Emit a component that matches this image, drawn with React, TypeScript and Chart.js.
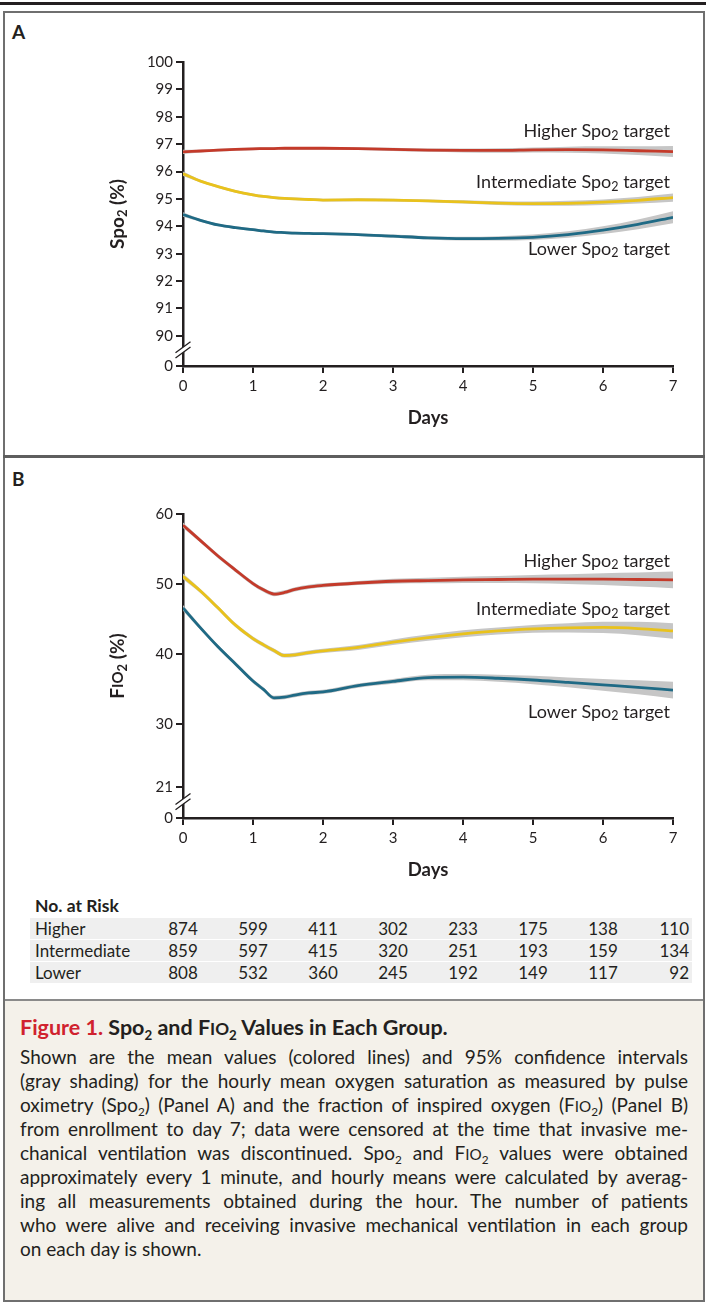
import React, { useEffect, useRef } from "react";
import { Chart, registerables } from "chart.js";

Chart.register(...registerables);

const FONT = "Lato, 'Open Sans', sans-serif";
const INK = "#231f20";
const BAND = "#c6c6c6";
const RED = "#c43a2a";
const YELLOW = "#e9c21c";
const BLUE = "#1f6a85";

// ---------- data ----------
const days = [0, 0.25, 0.5, 0.75, 1, 1.15, 1.3, 1.45, 1.6, 1.8, 2, 2.5, 3, 3.5, 4, 4.5, 5, 5.5, 6, 6.5, 7];
const dayTicks = [0, 1, 2, 3, 4, 5, 6, 7];

// Panel A: SpO2 (%)
const spo2Higher = [96.72, 96.75, 96.78, 96.81, 96.83, 96.835, 96.84, 96.85, 96.85, 96.85, 96.85, 96.84, 96.81, 96.78, 96.77, 96.77, 96.79, 96.8, 96.79, 96.76, 96.73];
const spo2Intermediate = [95.92, 95.65, 95.45, 95.28, 95.15, 95.09, 95.05, 95.02, 95.0, 94.98, 94.96, 94.97, 94.96, 94.93, 94.89, 94.85, 94.83, 94.84, 94.88, 94.95, 95.05];
const spo2Lower = [94.43, 94.22, 94.05, 93.95, 93.88, 93.83, 93.79, 93.77, 93.75, 93.74, 93.73, 93.7, 93.64, 93.58, 93.55, 93.56, 93.6, 93.7, 93.86, 94.07, 94.33];
const spo2HigherCI = [0.08, 0.05, 0.05, 0.05, 0.05, 0.05, 0.05, 0.05, 0.05, 0.05, 0.05, 0.05, 0.06, 0.06, 0.07, 0.08, 0.09, 0.11, 0.13, 0.16, 0.2];
const spo2IntermediateCI = [0.08, 0.05, 0.05, 0.05, 0.05, 0.05, 0.05, 0.05, 0.05, 0.05, 0.05, 0.05, 0.05, 0.05, 0.06, 0.07, 0.08, 0.09, 0.1, 0.12, 0.15];
const spo2LowerCI = [0.08, 0.05, 0.05, 0.05, 0.05, 0.05, 0.05, 0.05, 0.05, 0.05, 0.05, 0.05, 0.06, 0.06, 0.07, 0.08, 0.1, 0.12, 0.14, 0.18, 0.22];
const spo2Ticks = [90, 91, 92, 93, 94, 95, 96, 97, 98, 99, 100];
const spo2AxisZero = 88.9; // scale position of the "0" label below the axis break
const spo2Max = 100;

// Panel B: FiO2 (%)
const fio2Higher = [58.4, 56.2, 54.0, 52.0, 50.07, 49.17, 48.57, 48.8, 49.25, 49.6, 49.8, 50.15, 50.4, 50.5, 50.6, 50.65, 50.7, 50.7, 50.7, 50.65, 50.6];
const fio2Intermediate = [51.1, 49.0, 46.6, 44.13, 42.22, 41.32, 40.5, 39.8, 39.9, 40.2, 40.45, 40.95, 41.7, 42.35, 42.9, 43.3, 43.6, 43.75, 43.8, 43.65, 43.3];
const fio2Lower = [46.6, 43.75, 41.05, 38.6, 36.15, 34.96, 33.75, 33.85, 34.15, 34.45, 34.6, 35.5, 36.1, 36.65, 36.7, 36.55, 36.3, 35.95, 35.6, 35.25, 34.85];
const fio2HigherCI = [0.4, 0.3, 0.3, 0.3, 0.3, 0.3, 0.3, 0.3, 0.3, 0.3, 0.3, 0.3, 0.35, 0.4, 0.45, 0.5, 0.6, 0.7, 0.85, 1.0, 1.2];
const fio2IntermediateCI = [0.4, 0.3, 0.3, 0.3, 0.3, 0.3, 0.3, 0.3, 0.3, 0.3, 0.3, 0.35, 0.4, 0.45, 0.5, 0.5, 0.55, 0.65, 0.8, 0.95, 1.1];
const fio2LowerCI = [0.4, 0.3, 0.3, 0.3, 0.3, 0.3, 0.3, 0.3, 0.3, 0.3, 0.3, 0.3, 0.35, 0.4, 0.45, 0.5, 0.6, 0.7, 0.85, 1.0, 1.2];
const fio2Ticks = [21, 30, 40, 50, 60];
const fio2AxisZero = 16.6; // scale position of the "0" label below the axis break
const fio2Max = 60;

// No. at risk
const riskLabels = ["Higher", "Intermediate", "Lower"];
const riskHigher = [874, 599, 411, 302, 233, 175, 138, 110];
const riskIntermediate = [859, 597, 415, 320, 251, 193, 159, 134];
const riskLower = [808, 532, 360, 245, 192, 149, 117, 92];

// ---------- helpers ----------
type Seg = { text: string; size: number; bold?: boolean; dy?: number };

function fontOf(s: Seg) {
  return `${s.bold ? "bold " : ""}${s.size}px ${FONT}`;
}

function drawRich(ctx: CanvasRenderingContext2D, segs: Seg[], x: number, y: number, align: "left" | "center" | "right") {
  let total = 0;
  const widths = segs.map((s) => {
    ctx.font = fontOf(s);
    const w = ctx.measureText(s.text).width;
    total += w;
    return w;
  });
  let cx = align === "left" ? x : align === "right" ? x - total : x - total / 2;
  ctx.fillStyle = INK;
  ctx.textBaseline = "middle";
  ctx.textAlign = "left";
  segs.forEach((s, i) => {
    ctx.font = fontOf(s);
    ctx.fillText(s.text, cx, y + (s.dy || 0));
    cx += widths[i];
  });
}

const targetLabel = (name: string): Seg[] => [
  { text: `${name} Spo`, size: 18 },
  { text: "2", size: 12.5, dy: 4.5 },
  { text: " target", size: 18 },
];

type Series = { name: string; values: number[]; ci: number[]; color: string; labelAt: number };

type PanelProps = {
  top: number;
  height: number;
  padTop: number;
  yMin: number;
  yMax: number;
  yTicks: number[];
  series: Series[];
  yTitle: Seg[];
};

function Panel(props: PanelProps) {
  const ref = useRef<HTMLCanvasElement>(null);
  useEffect(() => {
    const canvas = ref.current!;
    const { yMin, yMax, yTicks, series, yTitle, padTop, height } = props;
    const allTicks = [yMin, ...yTicks];
    const datasets: any[] = [];
    series.forEach((s) => {
      datasets.push({
        label: s.name + " upper",
        data: days.map((d, i) => ({ x: d, y: s.values[i] + s.ci[i] })),
        borderWidth: 0,
        borderColor: "rgba(0,0,0,0)",
        pointRadius: 0,
        fill: false,
        cubicInterpolationMode: "monotone",
        order: 2,
      });
      datasets.push({
        label: s.name + " lower",
        data: days.map((d, i) => ({ x: d, y: s.values[i] - s.ci[i] })),
        borderWidth: 0,
        borderColor: "rgba(0,0,0,0)",
        backgroundColor: BAND,
        pointRadius: 0,
        fill: "-1",
        cubicInterpolationMode: "monotone",
        order: 2,
      });
      datasets.push({
        label: s.name,
        data: days.map((d, i) => ({ x: d, y: s.values[i] })),
        borderWidth: 2.8,
        borderColor: s.color,
        pointRadius: 0,
        fill: false,
        cubicInterpolationMode: "monotone",
        order: 1,
      });
    });

    const overlay = {
      id: "overlay",
      afterDraw(chart: any) {
        const ctx: CanvasRenderingContext2D = chart.ctx;
        const ca = chart.chartArea;
        const xs = chart.scales.x;
        const ys = chart.scales.y;
        ctx.save();
        // axis break marks
        const x0 = ca.left;
        const yc = (ys.getPixelForValue(yMin) + ys.getPixelForValue(yTicks[0])) / 2 - 1;
        const s = 7.5, h = 5.5, g = 2.6;
        ctx.fillStyle = "#ffffff";
        ctx.beginPath();
        ctx.moveTo(x0 - s, yc + h + g);
        ctx.lineTo(x0 + s, yc - h + g);
        ctx.lineTo(x0 + s, yc - h - g);
        ctx.lineTo(x0 - s, yc + h - g);
        ctx.closePath();
        ctx.fill();
        ctx.strokeStyle = INK;
        ctx.lineWidth = 1.3;
        ctx.beginPath();
        ctx.moveTo(x0 - s, yc + h + g);
        ctx.lineTo(x0 + s, yc - h + g);
        ctx.moveTo(x0 - s, yc + h - g);
        ctx.lineTo(x0 + s, yc - h - g);
        ctx.stroke();
        // line labels
        const xr = xs.getPixelForValue(7) - 3;
        series.forEach((sr) => {
          drawRich(ctx, targetLabel(sr.name), xr, ys.getPixelForValue(sr.labelAt), "right");
        });
        // x title
        drawRich(ctx, [{ text: "Days", size: 18.5, bold: true }], (ca.left + ca.right) / 2, ca.bottom + 52, "center");
        // y title
        ctx.translate(118, (ca.top + ca.bottom) / 2);
        ctx.rotate(-Math.PI / 2);
        drawRich(ctx, yTitle, 0, 0, "center");
        ctx.restore();
      },
    };

    const axisCommon = {
      grid: { display: true, drawOnChartArea: false, drawTicks: true, tickLength: 7, color: INK, lineWidth: 2 },
      border: { display: true, color: INK, width: 2.5 },
    };

    const chart = new Chart(canvas, {
      type: "line",
      data: { datasets },
      plugins: [overlay],
      options: {
        animation: false,
        responsive: false,
        maintainAspectRatio: false,
        events: [],
        layout: { padding: { left: 0, right: 33, top: padTop, bottom: height - padTop - 304 - 40 } },
        plugins: { legend: { display: false }, tooltip: { enabled: false } },
        scales: {
          x: {
            type: "linear",
            min: 0,
            max: 7,
            afterBuildTicks: (sc: any) => {
              sc.ticks = dayTicks.map((v) => ({ value: v }));
            },
            afterFit: (sc: any) => {
              sc.height = 40;
            },
            ticks: { color: INK, font: { family: FONT, size: 15 }, padding: 4, maxRotation: 0 },
            ...axisCommon,
          },
          y: {
            type: "linear",
            min: yMin,
            max: yMax,
            afterBuildTicks: (sc: any) => {
              sc.ticks = allTicks.map((v) => ({ value: v }));
            },
            afterFit: (sc: any) => {
              sc.width = 183;
            },
            ticks: {
              color: INK,
              font: { family: FONT, size: 15 },
              padding: 3,
              callback: (v: any) => (v === yMin ? "0" : String(v)),
            },
            ...axisCommon,
          },
        },
      } as any,
    });
    return () => chart.destroy();
  }, []);
  return (
    <canvas
      ref={ref}
      width={706}
      height={props.height}
      style={{ position: "absolute", left: 0, top: props.top, width: 706, height: props.height }}
    />
  );
}

const Sub = () => (
  <span style={{ fontSize: "0.62em", position: "relative", top: "0.38em" }}>2</span>
);
const SmallIO = () => <span style={{ fontSize: "0.8em" }}>IO</span>;

const captionLines: React.ReactNode[] = [
  <>Shown are the mean values (colored lines) and 95% confidence intervals</>,
  <>(gray shading) for the hourly mean oxygen saturation as measured by pulse</>,
  <>
    oximetry (Spo<Sub />) (Panel A) and the fraction of inspired oxygen (F<SmallIO />
    <Sub />) (Panel B)
  </>,
  <>from enrollment to day 7; data were censored at the time that invasive me-</>,
  <>
    chanical ventilation was discontinued. Spo<Sub /> and F<SmallIO />
    <Sub /> values were obtained
  </>,
  <>approximately every 1 minute, and hourly means were calculated by averag-</>,
  <>ing all measurements obtained during the hour. The number of patients</>,
  <>who were alive and receiving invasive mechanical ventilation in each group</>,
  <>on each day is shown.</>,
];

export default function App() {
  const tickX = (d: number) => 183 + d * 70;
  const riskRows = [riskHigher, riskIntermediate, riskLower];
  return (
    <div
      style={{
        position: "absolute",
        left: 0,
        top: 0,
        width: 706,
        height: 1302,
        background: "#ffffff",
        fontFamily: FONT,
        color: INK,
        overflow: "hidden",
      }}
    >
      {/* top rule */}
      <div style={{ position: "absolute", left: 0, top: 2, width: 706, height: 3, background: INK }} />
      {/* outer frame */}
      <div
        style={{
          position: "absolute",
          left: 3,
          top: 11,
          width: 698,
          height: 1287,
          border: "2px solid #6f6f6f",
        }}
      />
      {/* panel divider */}
      <div style={{ position: "absolute", left: 3, top: 455, width: 702, height: 3, background: "#5e5e5e" }} />

      <div style={{ position: "absolute", left: 12, top: 20, fontSize: 19, fontWeight: 700 }}>A</div>
      <div style={{ position: "absolute", left: 12, top: 467, fontSize: 19, fontWeight: 700 }}>B</div>

      <Panel
        top={0}
        height={445}
        padTop={62}
        yMin={spo2AxisZero}
        yMax={spo2Max}
        yTicks={spo2Ticks}
        yTitle={[
          { text: "Spo", size: 19, bold: true },
          { text: "2", size: 13, bold: true, dy: 4.5 },
          { text: " (%)", size: 19, bold: true },
        ]}
        series={[
          { name: "Higher", values: spo2Higher, ci: spo2HigherCI, color: RED, labelAt: 97.46 },
          { name: "Intermediate", values: spo2Intermediate, ci: spo2IntermediateCI, color: YELLOW, labelAt: 95.6 },
          { name: "Lower", values: spo2Lower, ci: spo2LowerCI, color: BLUE, labelAt: 93.18 },
        ]}
      />
      <Panel
        top={460}
        height={420}
        padTop={54}
        yMin={fio2AxisZero}
        yMax={fio2Max}
        yTicks={fio2Ticks}
        yTitle={[
          { text: "F", size: 19, bold: true },
          { text: "IO", size: 15, bold: true },
          { text: "2", size: 13, bold: true, dy: 4.5 },
          { text: " (%)", size: 19, bold: true },
        ]}
        series={[
          { name: "Higher", values: fio2Higher, ci: fio2HigherCI, color: RED, labelAt: 53.3 },
          { name: "Intermediate", values: fio2Intermediate, ci: fio2IntermediateCI, color: YELLOW, labelAt: 46.4 },
          { name: "Lower", values: fio2Lower, ci: fio2LowerCI, color: BLUE, labelAt: 31.76 },
        ]}
      />

      {/* No. at Risk */}
      <div style={{ position: "absolute", left: 35, top: 895, fontSize: 17.5, fontWeight: 700, lineHeight: "22px" }}>
        No. at Risk
      </div>
      {riskRows.map((row, r) => (
        <div
          key={r}
          style={{
            position: "absolute",
            left: 30,
            top: 918 + r * 22,
            width: 662,
            height: 21,
            background: "#efefef",
            fontSize: 17,
            lineHeight: "21px",
          }}
        >
          <span style={{ position: "absolute", left: 5 }}>{riskLabels[r]}</span>
          {row.map((v, i) =>
            i < row.length - 1 ? (
              <span
                key={i}
                style={{ position: "absolute", left: tickX(dayTicks[i]) - 30 - 30, width: 60, textAlign: "center" }}
              >
                {v}
              </span>
            ) : (
              <span key={i} style={{ position: "absolute", right: 3, textAlign: "right" }}>
                {v}
              </span>
            )
          )}
        </div>
      ))}

      {/* caption */}
      <div
        style={{
          position: "absolute",
          left: 5,
          top: 999,
          width: 698,
          height: 299,
          background: "#f4f1ea",
          borderTop: "2px solid #8a8a8a",
        }}
      >
        <div style={{ position: "absolute", left: 15, top: 13, fontSize: 21.5, fontWeight: 700, lineHeight: "26px", whiteSpace: "nowrap" }}>
          <span style={{ color: "#d0222e" }}>Figure 1.</span> Spo<Sub /> and F<SmallIO />
          <Sub /> Values in Each Group.
        </div>
        {captionLines.map((ln, i) => (
          <div
            key={i}
            style={{
              position: "absolute",
              left: 15,
              top: 44 + i * 24,
              width: i < captionLines.length - 1 ? 668 : undefined,
              fontSize: 19,
              lineHeight: "24px",
              whiteSpace: "nowrap",
              textAlign: i < captionLines.length - 1 ? "justify" : "left",
              textAlignLast: i < captionLines.length - 1 ? "justify" : "left",
            }}
          >
            {ln}
          </div>
        ))}
      </div>
    </div>
  );
}
